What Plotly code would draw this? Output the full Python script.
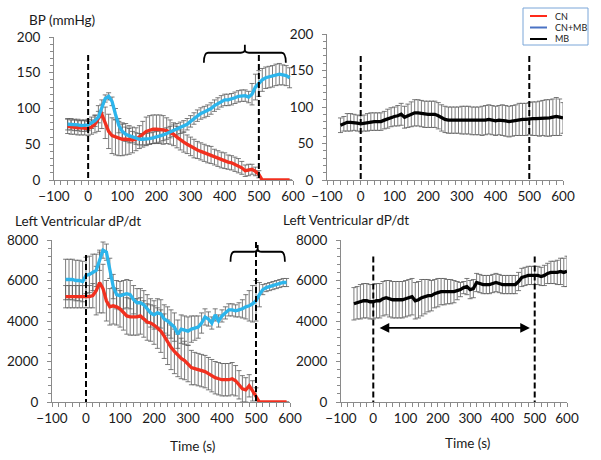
import plotly.graph_objects as go

W, H = 601, 460

# ---------------- data ----------------
t_left = list(range(-60, 600, 10))      # -60 .. 590
t_right = list(range(-60, 610, 10))     # -60 .. 600

bp_cn = [75, 74, 74, 73, 73, 73, 72, 74, 78, 86, 92, 80, 68, 62, 60, 58, 57, 57, 56, 56,
         57, 60, 64, 68, 70, 71, 71, 71, 70, 69, 67, 64, 60, 56, 53, 50, 47, 44, 42, 40,
         38, 36, 35, 32, 30, 28, 27, 25, 24, 22, 20, 17, 13, 14, 15, 12, 8,
         0, 0, 0, 0, 0, 0, 0, 0, 0]
bp_cn_err = [10, 10, 10, 10, 10, 10, 10, 10, 12, 18, 20, 22, 24, 25, 25, 24, 23, 22, 20, 18,
             16, 16, 18, 20, 20, 20, 20, 20, 20, 18, 17, 16, 15, 14, 14, 13, 13, 13, 12, 12,
             12, 12, 12, 11, 11, 11, 11, 10, 10, 10, 10, 9, 8, 8, 7, 6, 5,
             0, 0, 0, 0, 0, 0, 0, 0, 0]
bp_cnmb = [78, 78, 77, 77, 76, 76, 77, 80, 83, 88, 100, 114, 117, 110, 92, 76, 68, 64, 62, 60,
           58, 57, 57, 57, 58, 59, 60, 61, 63, 65, 67, 69, 71, 73, 75, 78, 82, 86, 90, 93,
           95, 97, 100, 104, 107, 110, 112, 112, 113, 115, 117, 118, 118, 116, 120, 130, 135,
           140, 143, 144, 145, 147, 148, 147, 146, 143]
bp_cnmb_err = [8, 8, 8, 8, 8, 8, 8, 8, 8, 8, 6, 5, 5, 6, 8, 10, 10, 10, 10, 8,
               8, 8, 8, 8, 8, 8, 8, 8, 8, 8, 8, 8, 8, 8, 8, 8, 8, 8, 8, 8,
               8, 8, 8, 8, 8, 8, 8, 8, 8, 8, 8, 8, 8, 8, 15, 18, 18,
               16, 15, 15, 15, 15, 15, 14, 14, 14]
bp_mb = [75, 77, 79, 79, 79, 78, 77, 78, 79, 80, 80, 80, 80, 82, 84, 86, 87, 88, 90, 86,
         88, 90, 92, 92, 91, 90, 90, 90, 90, 88, 85, 83, 82, 82, 82, 82, 82, 82, 82, 81,
         81, 81, 81, 82, 83, 82, 81, 82, 82, 81, 80, 81, 82, 83, 83, 83, 84, 84, 84, 84,
         85, 85, 85, 86, 87, 86, 85]
bp_mb_err = [10, 10, 12, 12, 11, 11, 11, 11, 12, 12, 12, 12, 12, 12, 13, 13, 13, 14, 15, 15,
             16, 17, 18, 18, 18, 18, 18, 18, 18, 18, 18, 18, 18, 18, 18, 18, 19, 19, 19, 19,
             19, 19, 20, 20, 20, 20, 20, 20, 21, 21, 21, 21, 21, 22, 22, 22, 22, 23, 23, 24,
             24, 25, 25, 25, 26, 25, 21]

dp_cn = [5200, 5200, 5200, 5200, 5200, 5200, 5200, 5200, 5250, 5500, 5900, 5600, 5000, 4700,
         4750, 4700, 4600, 4450, 4250, 4200, 4200, 4200, 4250, 4100, 3950, 3900, 3800, 3650,
         3500, 3250, 2950, 2700, 2500, 2300, 2150, 2050, 1900, 1700, 1650, 1600, 1550, 1500,
         1400, 1300, 1200, 1150, 1100, 1100, 1100, 1150, 1050, 850, 650, 600, 800, 550, 300,
         0, 0, 0, 0, 0, 0, 0, 0, 0]
dp_cn_err = [550, 550, 550, 550, 550, 550, 550, 550, 600, 1200, 1500, 1200, 1000, 900,
             900, 900, 900, 900, 900, 900, 900, 900, 900, 900, 900, 900, 950, 1000,
             1050, 1100, 1100, 1100, 1100, 1050, 1000, 950, 900, 850, 800, 800, 800, 800,
             800, 800, 800, 800, 800, 800, 800, 800, 750, 700, 650, 600, 550, 500, 400,
             0, 0, 0, 0, 0, 0, 0, 0, 0]
dp_cnmb = [6050, 6050, 6050, 6000, 6000, 5950, 6250, 6300, 6400, 6500, 7000, 7500, 7400, 6600,
           5700, 5300, 5250, 5300, 5350, 5300, 5050, 4900, 4900, 4800, 4600, 4400, 4300, 4400,
           4350, 4100, 4000, 3850, 3700, 3350, 3600, 3550, 3500, 3600, 3650, 3700, 3900, 4200,
           4100, 3900, 4300, 4000, 4250, 4400, 4550, 4550, 4500, 4550, 4600, 4700, 4750, 4850,
           5000, 5300, 5550, 5650, 5700, 5750, 5800, 5850, 5900, 5900]
dp_cnmb_err = [1000, 1000, 1000, 1000, 1000, 1000, 900, 900, 900, 800, 500, 400, 400, 500,
               600, 700, 700, 700, 700, 700, 700, 700, 700, 700, 700, 700, 700, 700,
               700, 700, 700, 700, 700, 700, 700, 700, 700, 650, 600, 550, 500, 400,
               350, 300, 300, 300, 300, 300, 300, 300, 300, 350, 450, 600, 750, 900,
               1000, 600, 250, 200, 200, 200, 200, 200, 200, 200]
dp_mb = [4850, 4900, 4950, 5000, 5000, 4950, 4950, 5000, 5000, 5100, 5150, 5100, 5050, 5050,
         5050, 5050, 5100, 5150, 5200, 5000, 5050, 5150, 5200, 5250, 5250, 5350, 5400, 5450,
         5450, 5450, 5450, 5450, 5500, 5550, 5650, 5700, 5550, 5600, 5900, 5850, 5800, 5800,
         5800, 5850, 5900, 5850, 5800, 5800, 5800, 5800, 5800, 5950, 6150, 6200, 6250, 6250,
         6250, 6250, 6200, 6250, 6350, 6400, 6400, 6400, 6450, 6400, 6450]
dp_mb_err = [800, 800, 850, 850, 850, 850, 850, 850, 850, 850, 850, 900, 900, 900,
             900, 900, 900, 900, 900, 900, 900, 900, 850, 800, 750, 700, 700, 650,
             650, 600, 600, 550, 450, 350, 300, 400, 450, 450, 450, 450, 450, 450,
             450, 450, 450, 450, 450, 450, 450, 450, 450, 450, 450, 450, 450, 450,
             450, 450, 450, 500, 500, 550, 550, 600, 650, 700, 750]

x_ticks = [-100, 0, 100, 200, 300, 400, 500, 600]
legend_names = ["CN", "CN+MB", "MB"]
legend_colors = ["#ff2a1a", "#4a72c4", "#000000"]

RED = "#f2301f"
CYAN = "#2cb5ec"
FONT = "Lato"

fig = go.Figure()

def add_series(x, y, err, color, xa, ya):
    fig.add_trace(go.Scatter(
        x=x, y=y, mode="markers", xaxis=xa, yaxis=ya, showlegend=False,
        marker=dict(size=1, color="rgba(0,0,0,0)"), hoverinfo="skip",
        error_y=dict(type="data", array=err, visible=True, color="#5a5a5a",
                     thickness=0.8, width=2.5)))
    return dict(x=x, y=y, color=color, xa=xa, ya=ya)

lines = []
lines.append(add_series(t_left, bp_cn, bp_cn_err, RED, "x", "y"))
lines.append(add_series(t_left, bp_cnmb, bp_cnmb_err, CYAN, "x", "y"))
lines.append(add_series(t_right, bp_mb, bp_mb_err, "#000000", "x2", "y2"))
lines.append(add_series(t_left, dp_cn, dp_cn_err, RED, "x3", "y3"))
lines.append(add_series(t_left, dp_cnmb, dp_cnmb_err, CYAN, "x3", "y3"))
lines.append(add_series(t_right, dp_mb, dp_mb_err, "#000000", "x4", "y4"))
for L in lines:
    fig.add_trace(go.Scatter(x=L["x"], y=L["y"], mode="lines", xaxis=L["xa"], yaxis=L["ya"],
                             showlegend=False, line=dict(color=L["color"], width=3.3)))

tickfont = dict(family=FONT, size=13.5, color="#1a1a1a")

def xax(domain, anchor):
    return dict(domain=domain, anchor=anchor, range=[-100, 600], tickvals=x_ticks,
                automargin=False,
                showgrid=False, zeroline=False, showline=True, linecolor="#8a8a8a",
                linewidth=1, ticks="outside", ticklen=4, tickcolor="#8a8a8a",
                minor=dict(dtick=20, tick0=0, ticks="outside", ticklen=4, tickcolor="#8a8a8a"),
                tickfont=tickfont, fixedrange=True)

def yax(domain, anchor, top, dt, mdt):
    return dict(domain=domain, anchor=anchor, range=[0, top], dtick=dt,
                automargin=False,
                showgrid=False, zeroline=False, showline=True, linecolor="#8a8a8a",
                linewidth=1, ticks="outside", ticklen=4, tickcolor="#8a8a8a",
                minor=dict(dtick=mdt, ticks="outside", ticklen=3, tickcolor="#8a8a8a"),
                tickfont=tickfont, ticklabelstandoff=6, fixedrange=True)

def pxx(p):
    return p / W

def pyy(p):
    return 1 - p / H

fig.update_layout(
    width=W, height=H, margin=dict(l=0, r=0, t=0, b=0, autoexpand=False),
    paper_bgcolor="white", plot_bgcolor="white", showlegend=False,
    font=dict(family=FONT, color="#1a1a1a"),
    xaxis=xax([pxx(54), pxx(293)], "y"),
    yaxis=yax([pyy(180), pyy(37)], "x", 200, 50, 10),
    xaxis2=xax([pxx(327), pxx(563)], "y2"),
    yaxis2=yax([pyy(180), pyy(34)], "x2", 200, 50, 10),
    xaxis3=xax([pxx(52), pxx(290)], "y3"),
    yaxis3=yax([pyy(402), pyy(240)], "x3", 8000, 2000, 400),
    xaxis4=xax([pxx(341), pxx(567)], "y4"),
    yaxis4=yax([pyy(402), pyy(240)], "x4", 8000, 2000, 400),
)

shapes = []
dash = dict(color="black", width=2, dash="6px,3px")
for xa, ya, tops in [("x", "y", (175, 175)), ("x2", "y2", (170, 170)),
                     ("x3", "y3", (7260, 7900)), ("x4", "y4", (7180, 7180))]:
    for xv, top in zip([0, 500], tops):
        shapes.append(dict(type="line", xref=xa, yref=ya, x0=xv, x1=xv, y0=top, y1=0, line=dash))

def brace(xa, ya, x1, x2, xc, ylow, ymid, ytop, r, ry):
    path = (f"M {x1},{ylow} Q {x1},{ymid} {x1 + r},{ymid} L {xc - r},{ymid} "
            f"Q {xc},{ymid} {xc},{ymid + ry} L {xc},{ytop} M {xc},{ymid + ry} "
            f"Q {xc},{ymid} {xc + r},{ymid} L {x2 - r},{ymid} Q {x2},{ymid} {x2},{ylow}")
    return dict(type="path", xref=xa, yref=ya, path=path, line=dict(color="black", width=1.8))

shapes.append(brace("x", "y", 339, 579, 459, 164, 178, 189, 12, 4))
shapes.append(brace("x3", "y3", 425, 585, 505, 6930, 7420, 7750, 12, 150))

# legend box
shapes.append(dict(type="rect", xref="paper", yref="paper", x0=pxx(523), x1=pxx(588),
                   y0=pyy(45), y1=pyy(8), line=dict(color="#7aa6d8", width=1), fillcolor="white"))
for i, c in enumerate(legend_colors):
    yy = pyy(16 + i * 11.5)
    shapes.append(dict(type="line", xref="paper", yref="paper", x0=pxx(530), x1=pxx(547),
                       y0=yy, y1=yy, line=dict(color=c, width=2)))

annotations = []
for i, n in enumerate(legend_names):
    annotations.append(dict(xref="paper", yref="paper", x=pxx(553), y=pyy(16 + i * 11.5),
                            text=n, showarrow=False, xanchor="left", yanchor="middle",
                            font=dict(family=FONT, size=9, color="#222")))

lab = dict(family=FONT, size=13.5, color="#1a1a1a")
annotations += [
    dict(xref="paper", yref="paper", x=pxx(27), y=pyy(20), text="BP (mmHg)", showarrow=False,
         xanchor="left", yanchor="middle", font=lab),
    dict(xref="paper", yref="paper", x=pxx(13), y=pyy(221), text="Left Ventricular dP/dt",
         showarrow=False, xanchor="left", yanchor="middle", font=lab),
    dict(xref="paper", yref="paper", x=pxx(281), y=pyy(220), text="Left Ventricular dP/dt",
         showarrow=False, xanchor="left", yanchor="middle", font=lab),
    dict(xref="paper", yref="paper", x=pxx(192), y=pyy(446), text="Time (s)",
         showarrow=False, xanchor="center", yanchor="middle", font=lab),
    dict(xref="paper", yref="paper", x=pxx(467), y=pyy(443), text="Time (s)",
         showarrow=False, xanchor="center", yanchor="middle", font=lab),
    dict(xref="x", yref="y", x=459, y=202, text="*", showarrow=False,
         font=dict(family=FONT, size=8, color="#222")),
    dict(xref="x3", yref="y3", x=505, y=8050, text="*", showarrow=False,
         font=dict(family=FONT, size=12, color="#222")),
    dict(xref="x4", yref="y4", x=485, y=3660, ax=15, ay=3660, axref="x4", ayref="y4",
         text="", showarrow=True, arrowhead=2, startarrowhead=2, arrowside="end+start",
         arrowsize=1.2, startarrowsize=1.2, arrowwidth=1.6, arrowcolor="black"),
]

fig.update_layout(shapes=shapes, annotations=annotations)
fig.write_html("out.html", config={"displayModeBar": False},
               post_script="document.body.style.margin='0px';")
